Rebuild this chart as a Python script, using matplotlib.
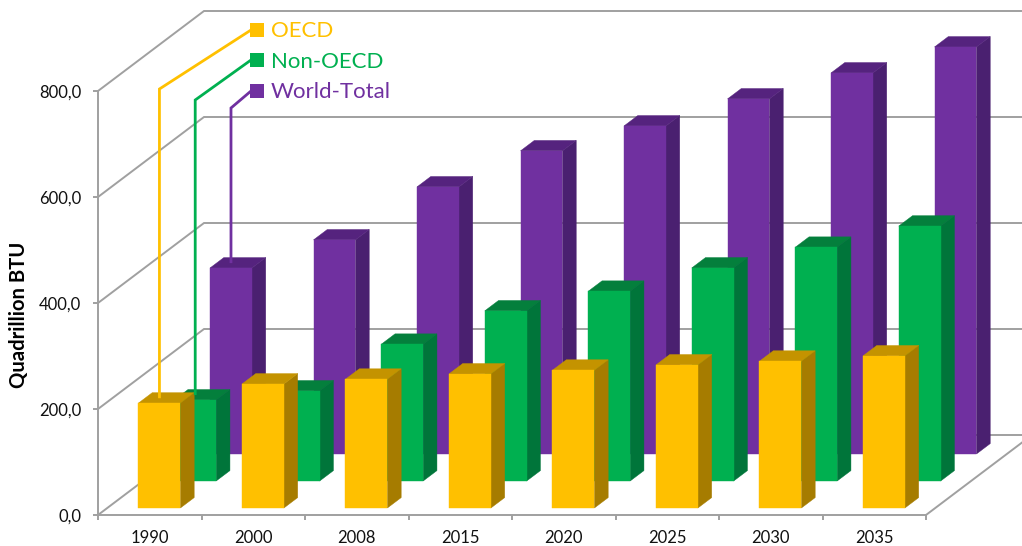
import matplotlib
matplotlib.use('Agg')
import matplotlib.pyplot as plt
from matplotlib.patches import Polygon, Rectangle
from matplotlib.transforms import Affine2D

plt.rcParams['font.family'] = ['Lato', 'DejaVu Sans']

# Data
years = ['1990', '2000', '2008', '2015', '2020', '2025', '2030', '2035']
oecd = [198, 234, 243, 253, 260, 270, 277, 287]
non_oecd = [153, 170, 258, 321, 358, 402, 441, 481]
world = [351, 404, 504, 572, 619, 670, 719, 768]
yticks = [0, 200, 400, 600, 800]

names = ['OECD', 'Non-OECD', 'World-Total']
front_col = ['#FFC000', '#00B050', '#7030A0']
side_col = ['#A67C00', '#00753A', '#4A2070']
top_col = ['#C49300', '#047F3C', '#55237E']

# Oblique projection settings, depth runs 0 (front) to 1 (back wall)
W, H = 1022, 546
left, right, bottom, top = 98, 926, 515, 91
x_per_d = 106 / ((right - left) / 8.0)
y_per_d = 80 / ((bottom - top) / 800.0)
bar_w = 0.405
bar_d = 0.13
bar_shift = 0.004
depths = [0.0875, 0.425, 0.7625]
grid_col = '#A0A0A0'


def proj(x, v, d):
    return (x + d * x_per_d, v + d * y_per_d)


def draw_bar(ax, i, val, d, k, z):
    x0 = i + 0.5 + bar_shift - bar_w / 2
    x1 = x0 + bar_w
    d1 = d + bar_d
    front = [proj(x0, 0, d), proj(x1, 0, d), proj(x1, val, d), proj(x0, val, d)]
    side = [proj(x1, 0, d), proj(x1, 0, d1), proj(x1, val, d1), proj(x1, val, d)]
    lid = [proj(x0, val, d), proj(x1, val, d), proj(x1, val, d1), proj(x0, val, d1)]
    ax.add_patch(Polygon(side, fc=side_col[k], ec=side_col[k], lw=0.3, clip_on=False, zorder=z))
    ax.add_patch(Polygon(lid, fc=top_col[k], ec=top_col[k], lw=0.3, clip_on=False, zorder=z))
    ax.add_patch(Polygon(front, fc=front_col[k], ec=front_col[k], lw=0.3, clip_on=False, zorder=z))


fig = plt.figure(figsize=(W / 100, H / 100), dpi=100)
ax = fig.add_axes([left / W, 1 - bottom / H, (right - left) / W, (bottom - top) / H])
ax.set_xlim(0, 8)
ax.set_ylim(0, 800)
ax.patch.set_visible(False)

# Walls and floor
for v in yticks:
    p0 = proj(0, v, 0)
    p1 = proj(0, v, 1)
    p2 = proj(8, v, 1)
    ax.plot([p0[0], p1[0], p2[0]], [p0[1], p1[1], p2[1]], color=grid_col, lw=1.4,
            clip_on=False, zorder=1, solid_joinstyle='miter')
p0 = proj(8, 0, 0)
p1 = proj(8, 0, 1)
ax.plot([p0[0], p1[0]], [p0[1], p1[1]], color=grid_col, lw=1.4, clip_on=False, zorder=1)

# Bars, back row first
series = [oecd, non_oecd, world]
for k in [2, 1, 0]:
    for i in range(len(years)):
        draw_bar(ax, i, series[k][i], depths[k], k, 3 + (2 - k))

# Axes
for s in ['top', 'right']:
    ax.spines[s].set_visible(False)
for s in ['left', 'bottom']:
    ax.spines[s].set_color(grid_col)
    ax.spines[s].set_linewidth(1.4)
ax.set_yticks(yticks)
ax.set_yticklabels([('%.1f' % v).replace('.', ',') for v in yticks])
ax.set_xticks(range(9))
ax.set_xticklabels([])
ax.set_xticks([i + 0.5 for i in range(8)], minor=True)
ax.set_xticklabels(years, minor=True)
ax.tick_params(axis='y', length=3.5, width=1.4, color=grid_col, labelsize=12, pad=8.5, labelcolor='#111111')
ax.tick_params(axis='x', which='major', length=3.5, width=1.4, color=grid_col)
ax.tick_params(axis='x', which='minor', length=0, labelsize=12, pad=11, labelcolor='#111111')
fig.text(19 / W, 1 - 315 / H, 'Quadrillion BTU', rotation=90, ha='center', va='center',
         fontsize=14.6, fontweight='bold', color='black')

# Legend with its leader lines, positions in pixels from top left
px = Affine2D().scale(1, -1).translate(0, H)
legend_y = [30, 60, 91]
text_base = [37, 68, 98]
bend_y = [89, 100, 108]
for k in range(3):
    sx, sy = proj(0.5 + bar_shift, series[k][0], depths[k] + bar_d * 0.6)
    sx_disp, sy_disp = ax.transData.transform((sx, sy))
    bx = sx_disp - 0.6 * bar_d * x_per_d * (right - left) / 8.0
    fig.add_artist(plt.Line2D([bx, bx, 251], [H - sy_disp, bend_y[k], legend_y[k]],
                              transform=px, color=front_col[k], lw=2, zorder=8,
                              solid_joinstyle='miter'))
    fig.add_artist(Rectangle((250, legend_y[k] + 7), 14, -14, transform=px, fc=front_col[k],
                             ec='none', zorder=9))
    fig.text(271 / W, 1 - text_base[k] / H, names[k], color=front_col[k], fontsize=16,
             ha='left', va='baseline', zorder=9)

fig.savefig('out.png', dpi=100)
